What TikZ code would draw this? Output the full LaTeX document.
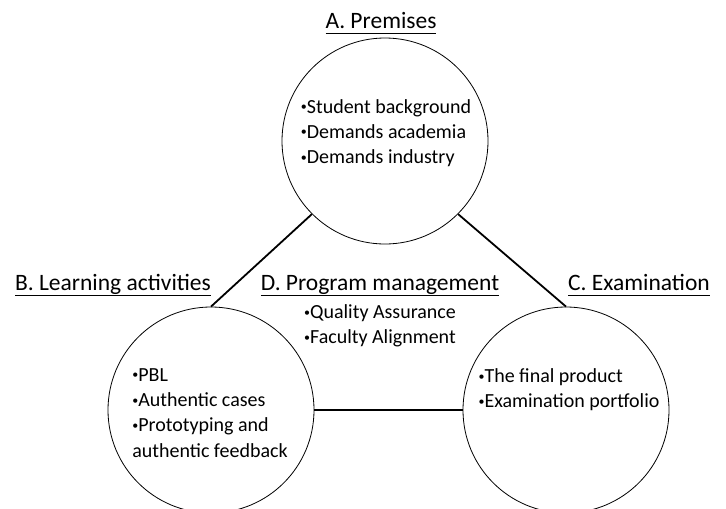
\documentclass[tikz,border=0pt]{standalone}
\usepackage{fontspec}
\setmainfont{Carlito}
\usetikzlibrary{positioning}
\newcommand{\ulabel}[1]{\underline{#1\vphantom{gpy}}}
\newcommand{\itm}{\raisebox{0.12em}{\scalebox{0.6}{•}}}

\begin{document}
\begin{tikzpicture}[x=1pt, y=-1pt,
                    ring/.style={circle, draw=black, line width=0.8pt, fill=white, inner sep=0pt, minimum size=206pt},
                    items/.style={align=left, font=\fontsize{20}{25.3}\selectfont, inner sep=0pt},
                    heading/.style={anchor=base, font=\fontsize{23.5}{27}\selectfont, inner sep=0pt},
                    link/.style={line width=1.8pt}]
                    \useasboundingbox (0, 0) rectangle (726, 509);

                    \node (PRE) [ring] at (385, 141) {};
                    \node (LA) [ring] at (211, 410) {};
                    \node (EX) [ring] at (566, 410) {};

                    \draw[link] (PRE.225) -- (LA.north);
                    \draw[link] (PRE.315) -- (EX.north);
                    \draw[link] (LA.east) -- (EX.west);

                    \node (PREt) [heading] at (381, 28) {\ulabel{A. Premises}};
                    \node (LAt) [heading] at (113, 290) {\ulabel{B. Learning activities}};
                    \node (PMt) [heading] at (380, 290) {\ulabel{D. Program management}};
                    \node (EXt) [heading] at (639, 290) {\ulabel{C. Examination}};

                    \node (PREi) [items] at (386, 133) {\itm Student background\\\itm Demands academia\\\itm Demands industry};
                    \node (LAi) [items] at (210, 413) {\itm PBL\\\itm Authentic cases\\\itm Prototyping and\\authentic feedback};
                    \node (EXi) [items] at (569, 390) {\itm The final product\\\itm Examination portfolio};
                    \node (PMi) [items] at (380, 326) {\itm Quality Assurance\\\itm Faculty Alignment};
                \end{tikzpicture}
\end{document}
